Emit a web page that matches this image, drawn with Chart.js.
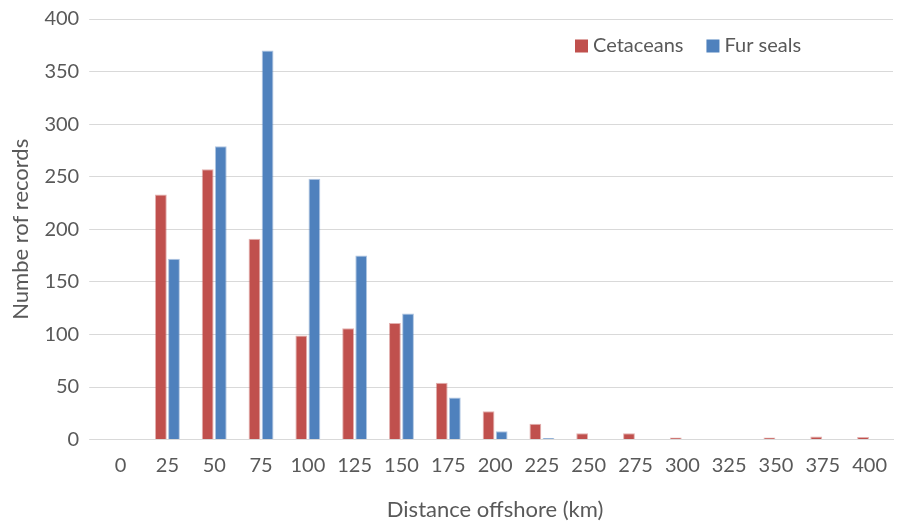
<!DOCTYPE html>
<html><head><meta charset="utf-8">
<script src="https://cdn.jsdelivr.net/npm/chart.js@4/dist/chart.umd.min.js"></script>
<style>html,body{margin:0;padding:0;background:#fff}#wrap{width:898px;height:525px}</style>
</head><body><div id="wrap"><canvas id="c" width="898" height="525"></canvas></div>
<script>
const categories = ['0','25','50','75','100','125','150','175','200','225','250','275','300','325','350','375','400'];
const cetaceans = [0,233,257,191,99,106,111,54,27,15,6,6,2,0.5,2,3,2.5];
const furSeals  = [0,172,279,370,248,175,120,40,8,1.5,0,0,0,0,0,0,0];
const yTicks = [0,50,100,150,200,250,300,350,400];
const font = "Lato, 'Open Sans', sans-serif";
const textColor = '#595959';

const insideLegend = {
  id:'insideLegend',
  afterDatasetsDraw(chart){
    const {ctx, chartArea} = chart;
    ctx.save();
    ctx.font = `20px ${font}`;
    ctx.textBaseline = 'middle';
    let x = chartArea.right - 318;
    const y = chartArea.top + 27;
    chart.data.datasets.forEach(ds=>{
      ctx.fillStyle = ds.backgroundColor;
      ctx.fillRect(x, y-6.5, 13, 13);
      ctx.fillStyle = textColor;
      ctx.fillText(ds.label, x+18, y);
      x += 18 + ctx.measureText(ds.label).width + 23;
    });
    ctx.restore();
  }
};

new Chart(document.getElementById('c'), {
  type: 'bar',
  data: {
    labels: categories,
    datasets: [
      {label:'Cetaceans', data:cetaceans, backgroundColor:'#C0504D', borderColor:'rgba(192,80,77,0.45)', borderWidth:1, categoryPercentage:0.56, barPercentage:0.9},
      {label:'Fur seals', data:furSeals, backgroundColor:'#4F81BD', borderColor:'rgba(79,129,189,0.45)', borderWidth:1, categoryPercentage:0.56, barPercentage:0.9}
    ]
  },
  options: {
    responsive:false, animation:false, devicePixelRatio:1,
    layout:{padding:{top:19,right:5,left:4,bottom:2}},
    plugins:{ legend:{display:false}, tooltip:{enabled:false} },
    scales:{
      x:{grid:{display:false}, border:{color:'#d9d9d9'},
        ticks:{font:{family:font,size:20}, color:textColor, padding:6, maxRotation:0},
        title:{display:true, text:'Distance offshore (km)', font:{family:font,size:22}, color:textColor, padding:{top:13,bottom:0}}},
      y:{min:0, max:400, afterBuildTicks:(ax)=>{ax.ticks = yTicks.map(v=>({value:v}));},
        afterFit:(s)=>{ s.paddingTop = 0; s.paddingBottom = 0; },
        grid:{color:'#d9d9d9', lineWidth:1}, border:{display:false},
        ticks:{font:{family:font,size:20}, color:textColor, padding:10},
        title:{display:true, text:'Numbe rof records', font:{family:font,size:22}, color:textColor, padding:{bottom:0}}}
    }
  },
  plugins:[insideLegend]
});
</script></body></html>
